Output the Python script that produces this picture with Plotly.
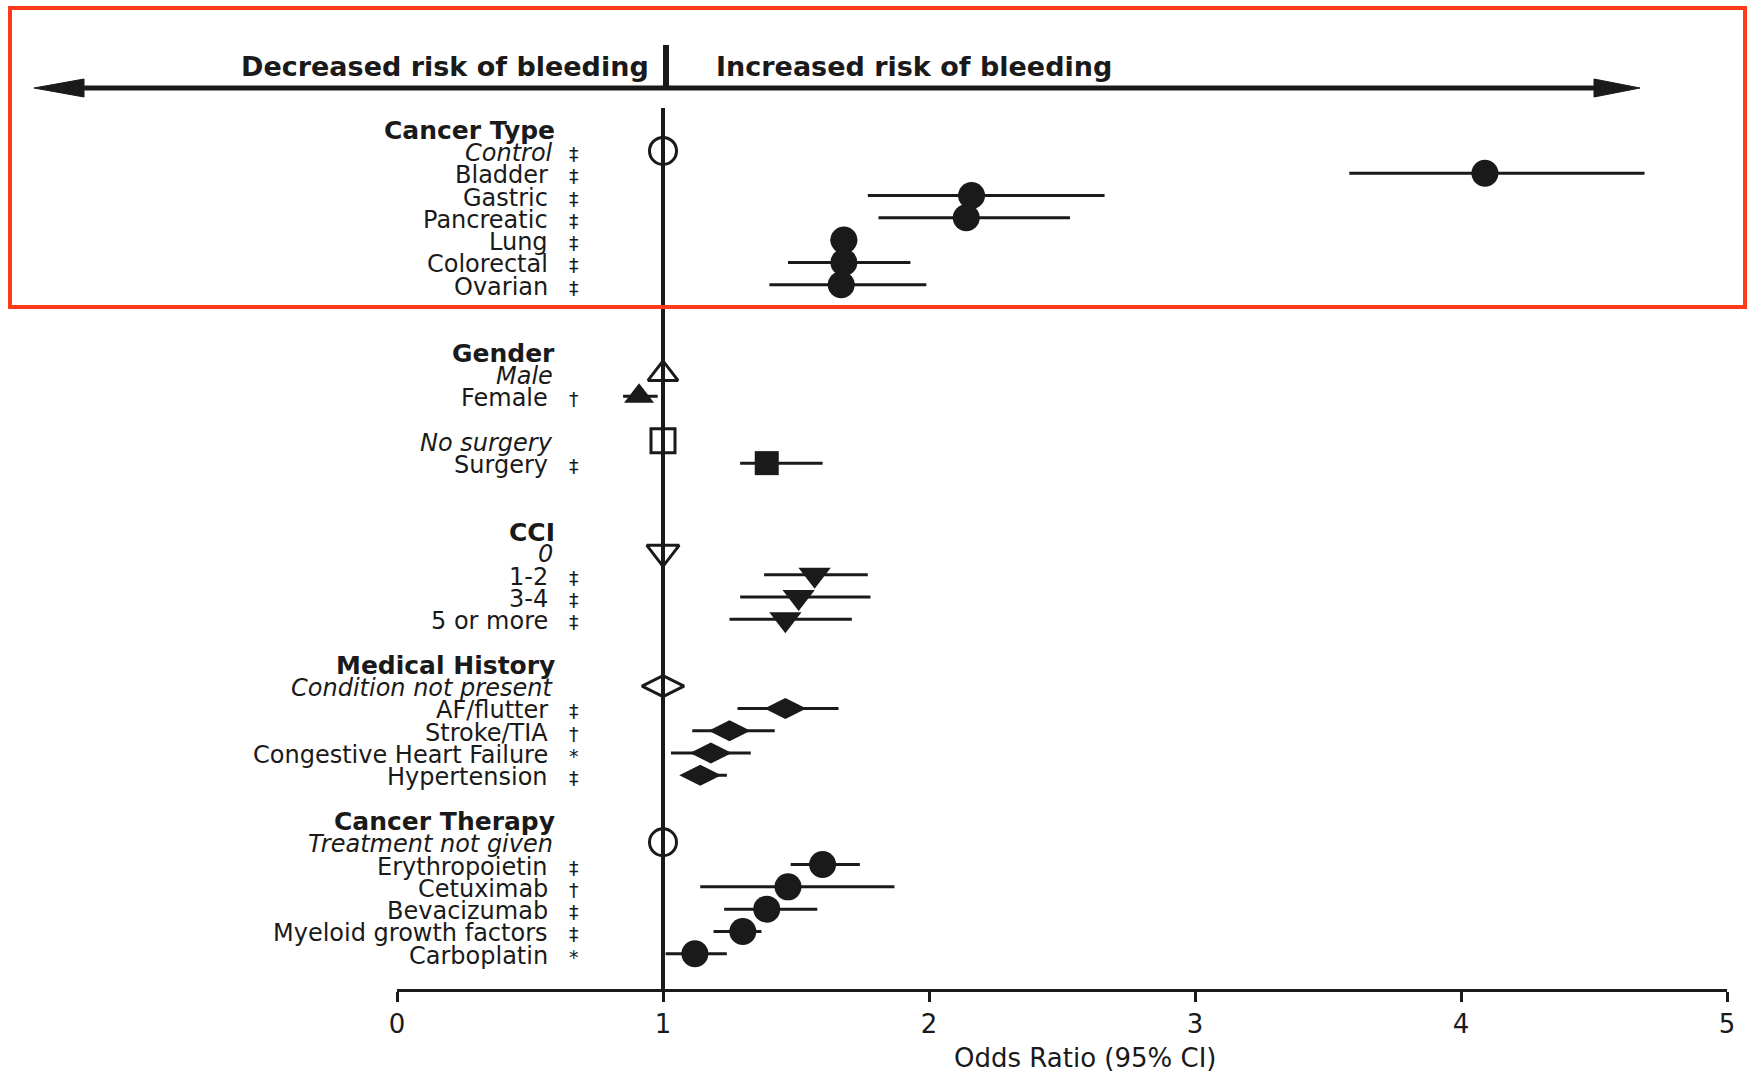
import plotly.graph_objects as go

# ---------------- data ----------------
cancer_labels = ["Bladder", "Gastric", "Pancreatic", "Lung", "Colorectal", "Ovarian"]
cancer_or = [4.09, 2.16, 2.14, 1.68, 1.68, 1.67]
cancer_lo = [3.58, 1.77, 1.81, 1.63, 1.47, 1.40]
cancer_hi = [4.69, 2.66, 2.53, 1.73, 1.93, 1.99]
cancer_sig = ["‡", "‡", "‡", "‡", "‡", "‡"]

gender_labels = ["Female"]
gender_or = [0.91]
gender_lo = [0.85]
gender_hi = [0.98]
gender_sig = ["†"]

surgery_labels = ["Surgery"]
surgery_or = [1.39]
surgery_lo = [1.29]
surgery_hi = [1.60]
surgery_sig = ["‡"]

cci_labels = ["1-2", "3-4", "5 or more"]
cci_or = [1.57, 1.51, 1.46]
cci_lo = [1.38, 1.29, 1.25]
cci_hi = [1.77, 1.78, 1.71]
cci_sig = ["‡", "‡", "‡"]

history_labels = ["AF/flutter", "Stroke/TIA", "Congestive Heart Failure", "Hypertension"]
history_or = [1.46, 1.25, 1.18, 1.14]
history_lo = [1.28, 1.11, 1.03, 1.08]
history_hi = [1.66, 1.42, 1.33, 1.24]
history_sig = ["‡", "†", "*", "‡"]

therapy_labels = ["Erythropoietin", "Cetuximab", "Bevacizumab", "Myeloid growth factors", "Carboplatin"]
therapy_or = [1.60, 1.47, 1.39, 1.30, 1.12]
therapy_lo = [1.48, 1.14, 1.23, 1.19, 1.01]
therapy_hi = [1.74, 1.87, 1.58, 1.37, 1.24]
therapy_sig = ["‡", "†", "‡", "‡", "*"]

reference_or = 1.0
x_ticks = [0, 1, 2, 3, 4, 5]
x_title = "Odds Ratio (95% CI)"
left_text = "Decreased risk of bleeding"
right_text = "Increased risk of bleeding"

# group definitions (header, reference label, reference mark, items...)
groups = [
    dict(header="Cancer Type", ref="Control", ref_sig="‡", labels=cancer_labels, orv=cancer_or,
         lo=cancer_lo, hi=cancer_hi, sig=cancer_sig, sym="circle", size=27, gap=2),
    dict(header="Gender", ref="Male", ref_sig="", labels=gender_labels, orv=gender_or,
         lo=gender_lo, hi=gender_hi, sig=gender_sig, sym="triangle-up", size=26, gap=1),
    dict(header=None, ref="No surgery", ref_sig="", labels=surgery_labels, orv=surgery_or,
         lo=surgery_lo, hi=surgery_hi, sig=surgery_sig, sym="square", size=24, gap=2),
    dict(header="CCI", ref="0", ref_sig="", labels=cci_labels, orv=cci_or,
         lo=cci_lo, hi=cci_hi, sig=cci_sig, sym="triangle-down", size=28, gap=1),
    dict(header="Medical History", ref="Condition not present", ref_sig="", labels=history_labels,
         orv=history_or, lo=history_lo, hi=history_hi, sig=history_sig, sym="diamond-wide", size=30, gap=1),
    dict(header="Cancer Therapy", ref="Treatment not given", ref_sig="", labels=therapy_labels,
         orv=therapy_or, lo=therapy_lo, hi=therapy_hi, sig=therapy_sig, sym="circle", size=27, gap=0),
]

# ---------------- layout geometry ----------------
W, H = 1754, 1075
ML, MR, MT, MB = 397, 27, 20, 86
plot_w = W - ML - MR
plot_h = H - MT - MB
Y_RANGE = [38.58, -4.87]

def px_x(px):
    return (px - ML) / plot_w

def px_y(py):
    return 1 - (py - MT) / plot_h

INK = "#1a1a1a"
FONT = "DejaVu Sans"
LABEL_SIZE = 24

fig = go.Figure()
annotations = []

row = 0
for g in groups:
    if g["header"]:
        annotations.append(dict(x=0.60, y=row, xref="x", yref="y", xanchor="right", yanchor="middle",
                                text="<b>" + g["header"] + "</b>", showarrow=False, yshift=-2,
                                font=dict(family=FONT, size=LABEL_SIZE + 1, color=INK)))
        row += 1
    ref_row = row
    annotations.append(dict(x=0.595, y=ref_row, xref="x", yref="y", xanchor="right", yanchor="middle",
                            text="<i>" + g["ref"] + "</i>", showarrow=False, yshift=-2,
                            font=dict(family=FONT, size=LABEL_SIZE, color=INK)))
    if g["ref_sig"]:
        annotations.append(dict(x=0.665, y=ref_row, xref="x", yref="y", xanchor="center", yanchor="middle",
                                text=g["ref_sig"], showarrow=False, yshift=-3,
                                font=dict(family=FONT, size=19, color=INK)))
    row += 1
    rows = list(range(row, row + len(g["labels"])))
    row += len(g["labels"]) + g["gap"]

    for lab, r, s in zip(g["labels"], rows, g["sig"]):
        annotations.append(dict(x=0.575, y=r, xref="x", yref="y", xanchor="right", yanchor="middle",
                                text=lab, showarrow=False, yshift=-2,
                                font=dict(family=FONT, size=LABEL_SIZE, color=INK)))
        annotations.append(dict(x=0.665, y=r, xref="x", yref="y", xanchor="center", yanchor="middle",
                                text=s, showarrow=False, yshift=-3,
                                font=dict(family=FONT, size=19, color=INK)))

    # reference (open) marker
    fig.add_trace(go.Scatter(
        x=[reference_or], y=[ref_row], mode="markers",
        marker=dict(symbol=g["sym"] + "-open", size=g["size"], color=INK, line=dict(width=3, color=INK)),
        showlegend=False, hoverinfo="skip", cliponaxis=False))
    # estimates with CI
    fig.add_trace(go.Scatter(
        x=g["orv"], y=rows, mode="markers",
        marker=dict(symbol=g["sym"], size=g["size"], color=INK, line=dict(width=0)),
        error_x=dict(type="data", symmetric=False,
                     array=[h - o for h, o in zip(g["hi"], g["orv"])],
                     arrayminus=[o - l for o, l in zip(g["orv"], g["lo"])],
                     thickness=3, width=0, color=INK),
        showlegend=False, cliponaxis=False))

shapes = []
# vertical reference line at OR = 1
shapes.append(dict(type="line", xref="x", yref="y", x0=reference_or, x1=reference_or,
                   y0=-0.92, y1=Y_RANGE[0], line=dict(color=INK, width=4), layer="below"))
# top double-headed arrow
ay = px_y(88)
shapes.append(dict(type="line", xref="paper", yref="paper", x0=px_x(80), x1=px_x(1598), y0=ay, y1=ay,
                   line=dict(color=INK, width=5)))
shapes.append(dict(type="path", xref="paper", yref="paper",
                   path="M {} {} L {} {} L {} {} Z".format(px_x(34), ay, px_x(84), px_y(79), px_x(84), px_y(97)),
                   fillcolor=INK, line=dict(color=INK, width=1)))
shapes.append(dict(type="path", xref="paper", yref="paper",
                   path="M {} {} L {} {} L {} {} Z".format(px_x(1640), ay, px_x(1594), px_y(79), px_x(1594), px_y(97)),
                   fillcolor=INK, line=dict(color=INK, width=1)))
# short vertical divider above arrow
shapes.append(dict(type="line", xref="paper", yref="paper", x0=px_x(666), x1=px_x(666),
                   y0=px_y(45), y1=ay, line=dict(color=INK, width=6)))
# red highlight frame
shapes.append(dict(type="rect", xref="paper", yref="paper", x0=px_x(10), x1=px_x(1745),
                   y0=px_y(307), y1=px_y(8), line=dict(color="#ff3b1a", width=4), fillcolor="rgba(0,0,0,0)"))

annotations.append(dict(x=px_x(651), y=px_y(67), xref="paper", yref="paper", xanchor="right", yanchor="middle",
                        text="<b>" + left_text + "</b>", showarrow=False,
                        font=dict(family=FONT, size=27, color=INK)))
annotations.append(dict(x=px_x(714), y=px_y(67), xref="paper", yref="paper", xanchor="left", yanchor="middle",
                        text="<b>" + right_text + "</b>", showarrow=False,
                        font=dict(family=FONT, size=27, color=INK)))
annotations.append(dict(x=px_x(1085), y=px_y(1058), xref="paper", yref="paper", xanchor="center", yanchor="middle",
                        text=x_title, showarrow=False, font=dict(family=FONT, size=26, color=INK)))

fig.update_layout(
    width=W, height=H,
    margin=dict(l=ML, r=MR, t=MT, b=MB),
    paper_bgcolor="white", plot_bgcolor="white",
    showlegend=False,
    shapes=shapes,
    annotations=annotations,
    xaxis=dict(range=[0, 5], tickvals=x_ticks, ticktext=[str(v) for v in x_ticks],
               showgrid=False, zeroline=False, showline=True, linecolor=INK, linewidth=3,
               ticks="outside", ticklen=10, tickwidth=3, tickcolor=INK,
               tickfont=dict(family=FONT, size=26, color=INK), fixedrange=True),
    yaxis=dict(range=Y_RANGE, visible=False, showgrid=False, zeroline=False, fixedrange=True),
)

fig.write_html("out.html")
